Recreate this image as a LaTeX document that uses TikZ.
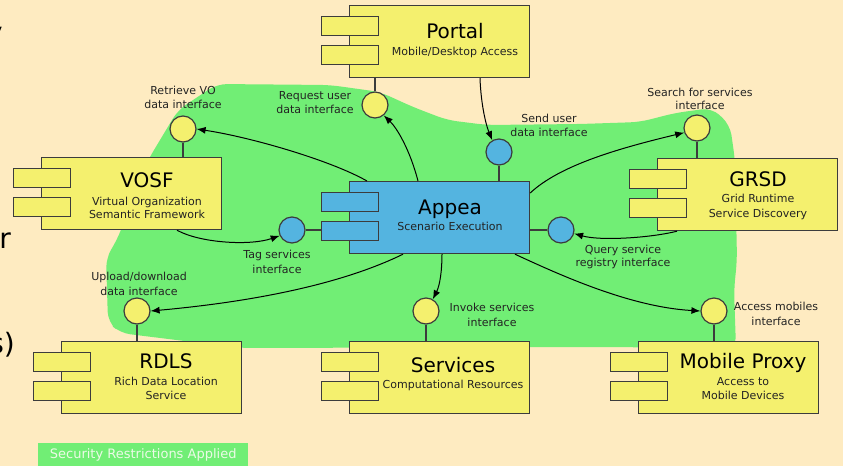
\documentclass[tikz,border=0pt]{standalone}
\usepackage{fontspec}
\setmainfont{DejaVu Sans}
\usetikzlibrary{arrows.meta}
\definecolor{bg}{RGB}{254,235,193}
\definecolor{grn}{RGB}{113,238,117}
\definecolor{yel}{RGB}{244,240,110}
\definecolor{blu}{RGB}{84,180,224}
\definecolor{edgec}{RGB}{60,60,60}
\definecolor{lbl}{RGB}{35,35,35}
\definecolor{sectxt}{RGB}{236,250,230}
\newcommand\umlcomp[4]{%
  \node[compbox,fill=#4] (#1) at (#2,#3) {};
  \node[tabbox,fill=#4] (#1-ta) at ({#2-28},{#3+11}) {};
  \node[tabbox,fill=#4] (#1-tb) at ({#2-28},{#3+40}) {};}
\begin{document}
\begin{tikzpicture}[x=1pt,y=-1pt,
  compbox/.style={draw=edgec,line width=1.2pt,minimum width=180pt,minimum height=72pt,inner sep=0pt,anchor=north west},
  tabbox/.style={draw=edgec,line width=1.2pt,minimum width=57pt,minimum height=19pt,inner sep=0pt,anchor=north west},
  iface/.style={circle,draw=edgec,line width=1.2pt,minimum size=26pt,inner sep=0pt},
  stick/.style={draw=edgec,line width=1.2pt},
  conn/.style={draw=black,line width=1pt,-{Latex[length=9pt,width=7pt]}},
  ttl/.style={font=\fontsize{20}{24}\selectfont,anchor=base,inner sep=0pt,text=black},
  subt/.style={font=\fontsize{11}{13}\selectfont,anchor=base,inner sep=0pt,text=lbl},
  labl/.style={font=\fontsize{11}{13}\selectfont,anchor=base,inner sep=0pt,text=lbl},
  frag/.style={font=\fontsize{28}{32}\selectfont,anchor=base east,inner sep=0pt,text=black}]
\useasboundingbox (0,0) rectangle (843,466);
\clip (0,0) rectangle (843,466);
\fill[bg] (0,0) rectangle (843,466);
% partly hidden text at the left edge
\node[frag] (fragy) at (3,42) {y};
\node[frag] (fragr) at (11,248) {r};
\node[frag] (frags) at (15,353) {s)};
% green region
\fill[grn,rounded corners=10pt] (217,84) -- (330,85) -- (380,92) -- (413,107) -- (447,120) -- (487,125)
  -- (580,124) -- (640,122) -- (675,113) -- (712,108) -- (730,125) -- (735,160) -- (737,260)
  -- (734,290) -- (736,348) -- (600,347) -- (241,348) -- (120,333) -- (108,322) -- (106,258)
  -- (117,240) -- (148,160) -- (178,110) -- cycle;
% components
\umlcomp{portal}{349}{5}{yel}
\umlcomp{vosf}{41}{157}{yel}
\umlcomp{appea}{349}{181}{blu}
\umlcomp{grsd}{657}{158}{yel}
\umlcomp{rdls}{61}{341}{yel}
\umlcomp{services}{349}{341}{yel}
\umlcomp{mobile}{638}{341}{yel}
% component texts
\node[ttl] (portal-t) at (455,38.5) {Portal};
\node[subt] (portal-s) at (455,55) {Mobile/Desktop Access};
\node[ttl] (appea-t) at (450,214) {Appea};
\node[subt] (appea-s) at (450,230) {Scenario Execution};
\node[ttl] (services-t) at (453,372) {Services};
\node[subt] (services-s) at (453,388) {Computational Resources};
\node[ttl] (vosf-t) at (147,187) {VOSF};
\node[subt] (vosf-s1) at (147,205) {Virtual Organization};
\node[subt] (vosf-s2) at (147,218) {Semantic Framework};
\node[ttl] (grsd-t) at (758,186) {GRSD};
\node[subt] (grsd-s1) at (758,202.5) {Grid Runtime};
\node[subt] (grsd-s2) at (758,217) {Service Discovery};
\node[ttl] (rdls-t) at (166,368) {RDLS};
\node[subt] (rdls-s1) at (166,385) {Rich Data Location};
\node[subt] (rdls-s2) at (166,399) {Service};
\node[ttl] (mobile-t) at (743,368) {Mobile Proxy};
\node[subt] (mobile-s1) at (743,385) {Access to};
\node[subt] (mobile-s2) at (743,399) {Mobile Devices};
% interfaces
\node[iface,fill=yel] (iRet) at (183,129) {};
\node[iface,fill=yel] (iReq) at (375,105) {};
\node[iface,fill=blu] (iSend) at (499,152) {};
\node[iface,fill=yel] (iSearch) at (697,128) {};
\node[iface,fill=blu] (iQuery) at (561,230) {};
\node[iface,fill=blu] (iTag) at (292,230) {};
\node[iface,fill=yel] (iUp) at (137,311) {};
\node[iface,fill=yel] (iInv) at (426,311) {};
\node[iface,fill=yel] (iAcc) at (714,311) {};
% sticks
\draw[stick] (iRet.south) -- (iRet.south |- vosf.north);
\draw[stick] (iReq.north) -- (iReq.north |- portal.south);
\draw[stick] (iSend.south) -- (iSend.south |- appea.north);
\draw[stick] (iSearch.south) -- (iSearch.south |- grsd.north);
\draw[stick] (iQuery.west) -- (iQuery.west -| appea.east);
\draw[stick] (iTag.east) -- (iTag.east -| appea-tb.west);
\draw[stick] (iUp.south) -- (iUp.south |- rdls.north);
\draw[stick] (iInv.south) -- (iInv.south |- services.north);
\draw[stick] (iAcc.south) -- (iAcc.south |- mobile.north);
% connectors
\draw[conn] ([xshift=18pt]appea.north west) .. controls (330,160) and (250,137) .. (iRet.east);
\draw[conn] ([xshift=69pt]appea.north west) .. controls (410,150) and (397,128) .. (iReq.-50);
\draw[conn] ([xshift=131pt]portal.south west) .. controls (481,105) and (486,125) .. (iSend.120);
\draw[conn] ([yshift=-12pt]appea.north east) .. controls (560,165) and (620,148) .. (iSearch.200);
\draw[conn] ([xshift=20pt]grsd.south west) .. controls (650,238) and (600,241) .. (iQuery.-15);
\draw[conn] ([xshift=136pt]vosf.south west) .. controls (200,243) and (250,246) .. (iTag.205);
\draw[conn] ([xshift=54pt]appea.south west) .. controls (340,285) and (250,302) .. (iUp.east);
\draw[conn] ([xshift=93pt]appea.south west) .. controls (442,270) and (440,285) .. (iInv.60);
\draw[conn] ([xshift=166pt]appea.south west) .. controls (560,275) and (630,307) .. (iAcc.west);
% interface labels
\node[labl] (lRet1) at (183,94) {Retrieve VO};
\node[labl] (lRet2) at (183,108) {data interface};
\node[labl] (lReq1) at (315,99) {Request user};
\node[labl] (lReq2) at (315,113) {data interface};
\node[labl] (lSend1) at (549,122) {Send user};
\node[labl] (lSend2) at (549,136) {data interface};
\node[labl] (lSea1) at (700,96) {Search for services};
\node[labl] (lSea2) at (700,109) {interface};
\node[labl] (lQue1) at (623,253) {Query service};
\node[labl] (lQue2) at (623,266.5) {registry interface};
\node[labl] (lTag1) at (277,258.5) {Tag services};
\node[labl] (lTag2) at (277,273) {interface};
\node[labl] (lUp1) at (139,280) {Upload/download};
\node[labl] (lUp2) at (139,295) {data interface};
\node[labl] (lInv1) at (492,311.5) {Invoke services};
\node[labl] (lInv2) at (492,326) {interface};
\node[labl] (lAcc1) at (776,310.5) {Access mobiles};
\node[labl] (lAcc2) at (776,325) {interface};
% security note
\node[fill=grn,minimum width=210pt,minimum height=23pt,anchor=north west,inner sep=0pt,text=sectxt,font=\fontsize{13}{15}\selectfont] (sec) at (38,443) {Security Restrictions Applied};
\end{tikzpicture}
\end{document}
